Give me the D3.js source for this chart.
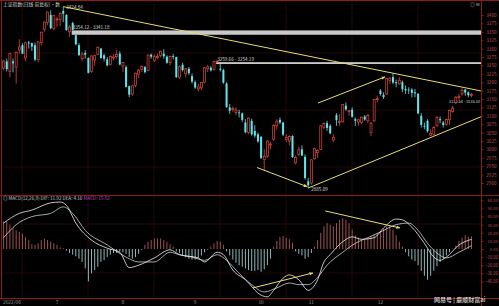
<!DOCTYPE html>
<html>
<head>
<meta charset="utf-8">
<script src="https://cdn.jsdelivr.net/npm/d3@7"></script>
<style>
  html, body { margin: 0; padding: 0; background: #000; }
  svg { display: block; }
  text { font-family: "Noto Sans CJK SC", "DejaVu Sans", sans-serif; }
</style>
</head>
<body>
<div class="chart"></div>
<script>
// Trading days shown (June 2022 - January 2023)
const dates = [
  "2022/06/08","2022/06/09","2022/06/10","2022/06/13","2022/06/14","2022/06/15","2022/06/16","2022/06/17","2022/06/20","2022/06/21",
  "2022/06/22","2022/06/23","2022/06/24","2022/06/27","2022/06/28","2022/06/29","2022/06/30","2022/07/01","2022/07/04","2022/07/05",
  "2022/07/06","2022/07/07","2022/07/08","2022/07/11","2022/07/12","2022/07/13","2022/07/14","2022/07/15","2022/07/18","2022/07/19",
  "2022/07/20","2022/07/21","2022/07/22","2022/07/25","2022/07/26","2022/07/27","2022/07/28","2022/07/29","2022/08/01","2022/08/02",
  "2022/08/03","2022/08/04","2022/08/05","2022/08/08","2022/08/09","2022/08/10","2022/08/11","2022/08/12","2022/08/15","2022/08/16",
  "2022/08/17","2022/08/18","2022/08/19","2022/08/22","2022/08/23","2022/08/24","2022/08/25","2022/08/26","2022/08/29","2022/08/30",
  "2022/08/31","2022/09/01","2022/09/02","2022/09/05","2022/09/06","2022/09/07","2022/09/08","2022/09/09","2022/09/13","2022/09/14",
  "2022/09/15","2022/09/16","2022/09/19","2022/09/20","2022/09/21","2022/09/22","2022/09/23","2022/09/26","2022/09/27","2022/09/28",
  "2022/09/29","2022/09/30","2022/10/10","2022/10/11","2022/10/12","2022/10/13","2022/10/14","2022/10/17","2022/10/18","2022/10/19",
  "2022/10/20","2022/10/21","2022/10/24","2022/10/25","2022/10/26","2022/10/27","2022/10/28","2022/10/31","2022/11/01","2022/11/02",
  "2022/11/03","2022/11/04","2022/11/07","2022/11/08","2022/11/09","2022/11/10","2022/11/11","2022/11/14","2022/11/15","2022/11/16",
  "2022/11/17","2022/11/18","2022/11/21","2022/11/22","2022/11/23","2022/11/24","2022/11/25","2022/11/28","2022/11/29","2022/11/30",
  "2022/12/01","2022/12/02","2022/12/05","2022/12/06","2022/12/07","2022/12/08","2022/12/09","2022/12/12","2022/12/13","2022/12/14",
  "2022/12/15","2022/12/16","2022/12/19","2022/12/20","2022/12/21","2022/12/22","2022/12/23","2022/12/26","2022/12/27","2022/12/28",
  "2022/12/29","2022/12/30","2023/01/03","2023/01/04","2023/01/05","2023/01/06","2023/01/09","2023/01/10","2023/01/11","2023/01/12"
];

// Daily candles
const open = [
  3242,3262,3232,3262,3245,3296,3310,3272,3318,3316, 3310,3268,3318,3357,3378,3400,3360,3386,3387,3412,
  3400,3350,3376,3340,3310,3270,3287,3272,3232,3266, 3282,3300,3280,3268,3253,3272,3276,3285,3248,3245,
  3188,3165,3190,3224,3238,3245,3235,3282,3265,3273, 3280,3285,3276,3258,3278,3275,3215,3252,3225,3240,
  3218,3200,3180,3183,3200,3240,3243,3238,3262,3240, 3236,3196,3125,3118,3110,3110,3107,3080,3050,3085,
  3055,3045,3037,2970,2980,3013,3030,3070,3088,3080, 3030,3025,3040,2960,2985,3000,2978,2905,2900,2972,
  2990,3000,3065,3078,3070,3028,3102,3080,3082,3130, 3112,3118,3090,3082,3080,3098,3085,3050,3085,3148,
  3175,3162,3165,3205,3215,3200,3195,3200,3180,3178, 3178,3170,3165,3100,3070,3085,3042,3045,3070,3090,
  3080,3075,3088,3112,3140,3155,3165,3178,3170,3162
];
const high = [
  3266,3270,3286,3270,3292,3328,3316,3320,3323,3318, 3318,3322,3350,3381,3410,3414,3400,3394,3408,3424.84,
  3403,3370,3380,3341.18,3316,3290,3295,3274,3280,3282, 3306,3302,3285,3275,3280,3283,3295,3292,3260,3250,
  3190,3192,3228,3240,3250,3248,3282,3285,3283,3285, 3294,3298,3280,3279,3284,3276,3250,3258,3242,3245,
  3226,3205,3195,3200,3245,3252,3248,3264,3264,3254.19, 3240,3200,3135,3128,3125,3118,3110,3090,3095,3092,
  3072,3050,3040,3000,3027,3022,3075,3090,3095,3082, 3045,3042,3042,2982,3008,3012,2985,2915,2970,3005,
  3000,3072,3080,3085,3075,3045,3108,3105,3135,3140, 3118,3125,3095,3092,3098,3102,3105,3082,3150,3160,
  3180,3170,3213,3215,3226,3208,3215,3205,3190,3185, 3182,3180,3168,3108,3080,3090,3060,3070,3100,3098,
  3085,3092,3119,3129.58,3159,3165,3182,3180,3172,3168
];
const low = [
  3236,3232,3215,3229,3196,3284,3284,3262,3300,3293, 3262,3260,3310,3350,3370,3358,3355,3364,3367,3379,
  3353,3335,3354.12,3310,3278,3262,3270,3226,3228,3249, 3280,3270,3262,3247,3250,3265,3270,3250,3230,3184,
  3155,3160,3185,3212,3230,3226,3232,3270,3260,3268, 3274,3270,3255,3250,3268,3213,3210,3232,3214,3222,
  3196,3180,3172,3176,3198,3230,3232,3235,3259.66,3232, 3195,3124,3106,3112,3102,3095,3082,3048,3045,3041,
  3035,3020,2972,2935,2975,3000,3025,3060,3075,3040, 3022,3012,2975,2955,2980,2980,2910,2885.09,2895,2970,
  2975,2998,3060,3055,3045,3022,3070,3070,3080,3115, 3100,3095,3070,3070,3075,3085,3078,3040,3082,3140,
  3160,3150,3162,3195,3195,3185,3192,3170,3165,3165, 3155,3155,3105,3065,3060,3050,3040,3042,3068,3078,
  3065,3070,3073,3110,3135.1,3148,3160,3160,3155,3155
];
const close = [
  3263,3239,3285,3256,3288,3305,3285,3317,3315,3306, 3267,3320,3349,3379,3409,3361,3398,3388,3405,3404,
  3355,3364,3356,3313,3281,3284,3282,3228,3278,3279, 3304,3272,3270,3250,3277,3275,3282,3253,3259,3186,
  3163,3189,3227,3236,3247,3230,3281,3276,3276,3277, 3292,3277,3258,3277,3276,3215,3246,3236,3240,3227,
  3202,3184,3186,3199,3243,3246,3235,3262,3263,3237, 3199,3126,3115,3122,3117,3108,3088,3051,3093,3045,
  3041,3024,2974,2979,3025,3016,3071,3084,3080,3044, 3035,3038,2977,2976,2999,2982,2915,2893,2969,3003,
  2997,3070,3077,3064,3048,3036,3087,3083,3134,3119, 3115,3097,3085,3088,3096,3089,3101,3078,3149,3151,
  3165,3156,3211,3212,3199,3197,3206,3179,3176,3176, 3168,3167,3107,3073,3068,3054,3048,3065,3095,3087,
  3073,3089,3116,3123,3155,3157,3176,3169,3161,3163
];

// MACD histogram (2 x (DIF - DEA)), one bar per day
const macdHist = [
  34,34,30,26,23,21,19,15,11,6, 5,7,11,13,11,9,7,5,2,1,
  -2,-5,-7,-9,-12,-16,-24,-40,-30,-26, -22,-16,-14,-10,-7,-5,-5,-3,-4,-6,
  -10,-12,-10,-6,-1,5,9,11,13,13, 13,11,9,6,3,-3,-5,-7,-10,-12,
  -13,-13,-11,-8,-4,-1,3,7,10,9, 5,-3,-8,-13,-17,-20,-22,-24,-26,-27,
  -27,-26,-28,-25,-20,-12,3,10,15,16, 14,12,8,-3,-6,-8,-12,-10,-5,3,
  11,20,28,32,30,28,32,36,38,36, 32,24,17,14,12,12,14,16,18,20,
  22,25,28,28,24,17,9,3,-4,-9, -13,-15,-20,-27,-33,-38,-33,-27,-21,-16,
  -12,-8,-4,0.5,4,10,14,17,15,15.52
];

// DIF and DEA lines, read at points along the curves (day index, value)
const difDays = [0,5,9,15,18,20,23,28,33,37,40,43,48,53,56,62,64,68,70,73,77,82,84,86,89,91,94,97,100,102,104,108,111,114,118,121,125,127,130,134,137,139,141,145,149];
const difVals = [32,44,48,57,58,54,32,11,1,-4,-23,-20,-11,-1,-7,-11,-16,-4,-7,-26,-38,-57,-59,-51,-36,-32,-38,-51,-38,-16,-7,9,15,12,14,26,37,36,27,7,-10,-14,-10,5,11.92];
const deaDays = [0,4,9,15,19,22,26,33,39,43,48,53,56,60,64,68,71,75,79,83,87,91,94,97,100,103,108,112,116,120,125,129,132,135,138,141,145,149];
const deaVals = [14,30,40,44,52,44,23,5,-10,-16,-16,-4,-7,-10,-14,-7,-14,-30,-44,-53,-48,-42,-44,-44,-35,-20,-4,7,14,21,30,32,23,7,-5,-11,-4,4.16];

// Axis ticks
const priceTicks = [2900,2925,2950,2975,3000,3025,3050,3075,3100,3125,3150,3175,3200,3225,3250,3275,3300,3325,3350,3375,3400];
const macdTicks = [-40,-30,-20,-10,0,10,20,30,40,50,60];
const monthTicks = ["2022/06/08","2022/07/01","2022/08/01","2022/09/01","2022/10/10","2022/11/01","2022/12/01"];
const monthLabels = ["2022/06","7","8","9","10","11","12"];

// Gaps drawn as grey bands (start day, upper, lower)
const gapStart = [22, 68, 143];
const gapTop = [3354.12, 3259.66, 3135.10];
const gapBottom = [3341.18, 3254.19, 3129.58];
const gapText = ["3354.12 - 3341.18", "3259.66 - 3254.19", "3129.58 - 3135.10"];

// Hand drawn yellow lines (day index, value)
const priceLines = [
  [[19, 3424.84], [152, 3174]],
  [[80.7, 2946], [96.7, 2889]],
  [[97, 2885.09], [152, 3097]],
  [[100.1, 3138], [121.5, 3216]]
];
const macdLines = [
  [[79.4, -48], [98.5, -29.6]],
  [[102.4, 47], [126.2, 26]]
];

// Layout
const width = 499, height = 306;
const plotLeft = 2, plotRight = 481;
const mainTop = 2, mainBottom = 195;
const macdTop = 196, macdBottom = 298;

const cyan = "#5fe6ee";
const red = "#e0483f";
const axisRed = "#c2474a";
const yellow = "#e4de72";

const svg = d3.select(".chart").append("svg")
  .attr("width", width)
  .attr("height", height)
  .style("background", "#000");

const x = d3.scaleLinear()
  .domain([0, dates.length - 1])
  .range([3.6, 471.5]);

const y = d3.scaleLinear()
  .domain([2900, 3400])
  .range([183, 15]);

const ym = d3.scaleLinear()
  .domain([-40, 60])
  .range([281.4, 200.4]);

const dayIndex = new Map(dates.map((d, i) => [d, i]));

// Grid (faint dark red)
const grid = svg.append("g").attr("stroke", "#3a0d0d").attr("stroke-width", 0.6);
d3.range(22, plotRight, 66).forEach(gx => {
  grid.append("line").attr("x1", gx).attr("x2", gx).attr("y1", mainTop).attr("y2", macdBottom);
});
[53, 110, 167].forEach(gy => {
  grid.append("line").attr("x1", plotLeft).attr("x2", plotRight).attr("y1", gy).attr("y2", gy);
});
[224, 273].forEach(gy => {
  grid.append("line").attr("x1", plotLeft).attr("x2", plotRight).attr("y1", gy).attr("y2", gy);
});

// Frame lines
const frame = svg.append("g").attr("stroke", "#8a1c1c").attr("stroke-width", 1);
frame.append("line").attr("x1", 0).attr("x2", width).attr("y1", 0.5).attr("y2", 0.5);
frame.append("line").attr("x1", 1.5).attr("x2", 1.5).attr("y1", 0).attr("y2", macdBottom);
frame.append("line").attr("x1", plotRight + 0.5).attr("x2", plotRight + 0.5).attr("y1", 0).attr("y2", height);
frame.append("line").attr("x1", 0).attr("x2", width).attr("y1", mainBottom + 0.5).attr("y2", mainBottom + 0.5);
frame.append("line").attr("x1", 0).attr("x2", width).attr("y1", macdBottom + 0.5).attr("y2", macdBottom + 0.5);

// Gap bands
gapStart.forEach((s, i) => {
  svg.append("rect")
    .attr("x", x(s) - 1)
    .attr("y", y(gapTop[i]))
    .attr("width", plotRight - x(s) + 1)
    .attr("height", Math.max(1.5, y(gapBottom[i]) - y(gapTop[i])))
    .attr("fill", i === 2 ? "none" : "#c9c9c9");
  const last = i === gapStart.length - 1;
  svg.append("text")
    .attr("x", last ? plotRight - 1 : x(s))
    .attr("y", y(gapTop[i]) - 1)
    .attr("font-size", last ? 3.9 : 4.6)
    .attr("text-anchor", last ? "end" : "start")
    .attr("fill", "#d8d8d8")
    .text(gapText[i]);
});

// Candles
const candles = svg.append("g");
dates.forEach((d, i) => {
  const up = close[i] >= open[i];
  const col = up ? red : cyan;
  candles.append("line")
    .attr("x1", x(i)).attr("x2", x(i))
    .attr("y1", y(high[i])).attr("y2", y(low[i]))
    .attr("stroke", col).attr("stroke-width", 0.8);
  const top = y(Math.max(open[i], close[i]));
  const h = Math.max(0.8, Math.abs(y(open[i]) - y(close[i])));
  candles.append("rect")
    .attr("x", x(i) - 1)
    .attr("y", top)
    .attr("width", 2)
    .attr("height", h)
    .attr("fill", up ? "#000" : cyan)
    .attr("stroke", up ? red : "none")
    .attr("stroke-width", 0.7);
});

// High and low labels
svg.append("text").attr("x", x(19) + 3).attr("y", y(3424.84) + 2)
  .attr("font-size", 4.6).attr("fill", "#d8d8d8").text("3424.84");
svg.append("text").attr("x", x(97) + 3).attr("y", y(2885.09) + 3)
  .attr("font-size", 4.6).attr("fill", "#d8d8d8").text("2885.09");

// Yellow trend lines with arrow heads
svg.append("defs").append("marker")
  .attr("id", "arr")
  .attr("viewBox", "0 0 10 10")
  .attr("refX", 9).attr("refY", 5)
  .attr("markerWidth", 4).attr("markerHeight", 4)
  .attr("orient", "auto")
  .append("path").attr("d", "M0,1 L10,5 L0,9 Z").attr("fill", yellow);

priceLines.forEach((l, i) => {
  svg.append("line")
    .attr("x1", x(l[0][0])).attr("y1", y(l[0][1]))
    .attr("x2", x(l[1][0])).attr("y2", y(l[1][1]))
    .attr("stroke", yellow).attr("stroke-width", 1)
    .attr("marker-end", i === 1 || i === 3 ? "url(#arr)" : null);
});

// Price axis
const yAxis = svg.append("g")
  .attr("transform", `translate(${plotRight + 0.5},0)`)
  .call(d3.axisRight(y).tickValues(priceTicks).tickSize(2).tickFormat(d3.format("d")));
yAxis.select(".domain").remove();
yAxis.selectAll("line").attr("stroke", "#8a1c1c");
yAxis.selectAll("text").attr("fill", axisRed).attr("font-size", 4.6)
  .attr("x", 15).attr("text-anchor", "end");

// MACD histogram
const hist = svg.append("g");
macdHist.forEach((v, i) => {
  hist.append("line")
    .attr("x1", x(i)).attr("x2", x(i))
    .attr("y1", ym(0)).attr("y2", ym(v))
    .attr("stroke", v >= 0 ? "#c46a6a" : "#b4e4e6")
    .attr("stroke-width", 0.8);
});

// DIF / DEA lines
const line = d3.line().x(d => x(d[0])).y(d => ym(d[1])).curve(d3.curveMonotoneX);
svg.append("path")
  .attr("d", line(deaDays.map((d, i) => [d, deaVals[i]])))
  .attr("fill", "none").attr("stroke", "#cfcfcf").attr("stroke-width", 0.8);
svg.append("path")
  .attr("d", line(difDays.map((d, i) => [d, difVals[i]])))
  .attr("fill", "none").attr("stroke", "#f4f4f4").attr("stroke-width", 0.8);

macdLines.forEach(l => {
  svg.append("line")
    .attr("x1", x(l[0][0])).attr("y1", ym(l[0][1]))
    .attr("x2", x(l[1][0])).attr("y2", ym(l[1][1]))
    .attr("stroke", yellow).attr("stroke-width", 1)
    .attr("marker-end", "url(#arr)");
});

// MACD axis
const mAxis = svg.append("g")
  .attr("transform", `translate(${plotRight + 0.5},0)`)
  .call(d3.axisRight(ym).tickValues(macdTicks).tickSize(2).tickFormat(d3.format(".2f")));
mAxis.select(".domain").remove();
mAxis.selectAll("line").attr("stroke", "#8a1c1c");
mAxis.selectAll("text").attr("fill", axisRed).attr("font-size", 4.2)
  .attr("x", 16.5).attr("text-anchor", "end");

// Date axis
monthTicks.forEach((d, i) => {
  svg.append("text")
    .attr("x", i === 0 ? 3 : x(dayIndex.get(d)))
    .attr("y", 303.5)
    .attr("font-size", 4.8)
    .attr("fill", "#9a9a9a")
    .attr("text-anchor", i === 0 ? "start" : "middle")
    .text(monthLabels[i]);
});

// Titles
svg.append("text").attr("x", 3).attr("y", 6)
  .attr("font-size", 4.8).attr("fill", "#cfcfcf")
  .text("上证指数(日线 前复权)·数");
svg.append("text").attr("x", 470).attr("y", 6)
  .attr("font-size", 4.8).attr("fill", "#9a9a9a")
  .text("◎ ⊞");

const mt = svg.append("text").attr("x", 3).attr("y", 200).attr("font-size", 4.6);
mt.append("tspan").attr("fill", "#cfcfcf").text("◎ MACD(12,26,9) DIF: 11.92 DEA: 4.16 ");
mt.append("tspan").attr("fill", "#c23fc6").text("MACD: 15.52");

// Watermark
svg.append("text").attr("x", 434).attr("y", 302)
  .attr("font-size", 6).attr("fill", "#f2f2f2")
  .text("网易号 | 鹿顺财富ai");
</script>
</body>
</html>
